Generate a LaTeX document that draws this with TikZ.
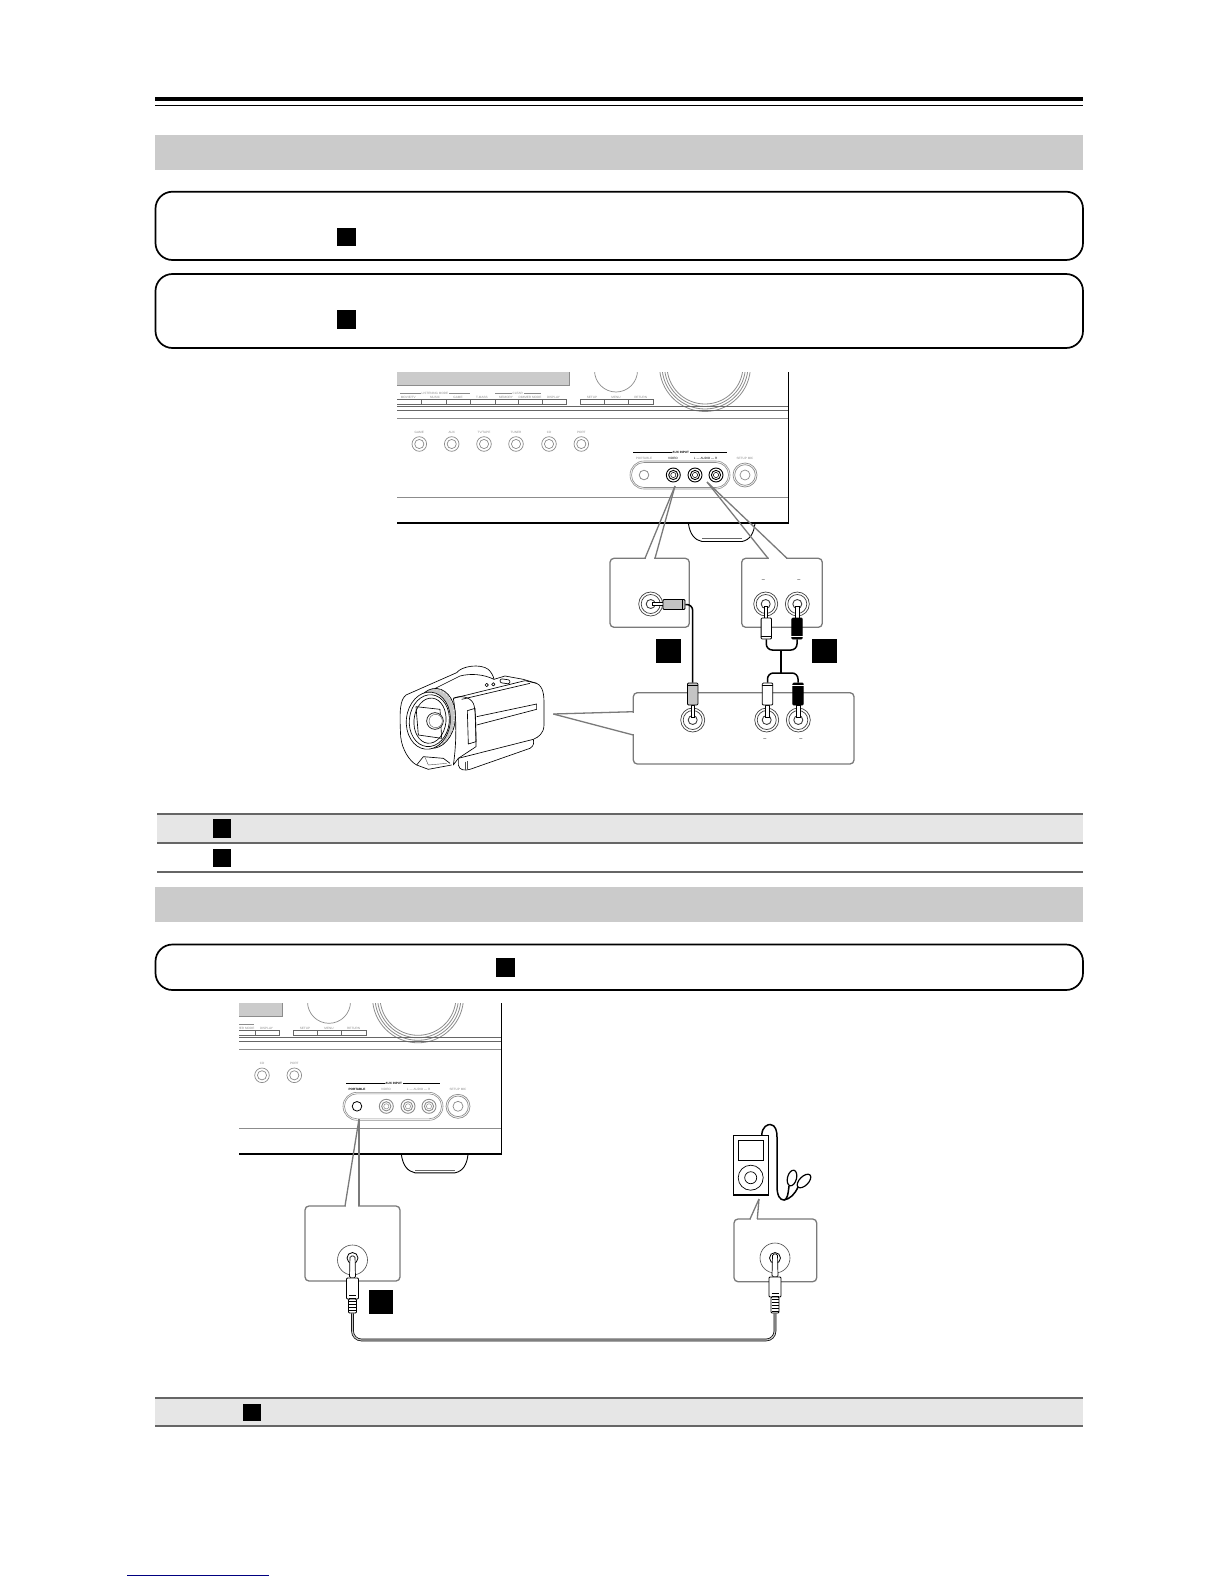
\documentclass[tikz,border=0pt]{standalone}
\usepackage{fontspec}
\setmainfont{Liberation Sans}
\definecolor{bandgrey}{HTML}{CBCBCB}
\definecolor{rowgrey}{HTML}{E6E6E6}
\definecolor{rulegrey}{HTML}{666666}
\definecolor{callgrey}{HTML}{7A7A7A}
\definecolor{panelgrey}{HTML}{8C8C8C}
\definecolor{plugbase}{HTML}{C4C4C4}
\definecolor{footnavy}{HTML}{000080}
\tikzset{
  band/.style={fill=bandgrey,draw=none},
  notebox/.style={draw=black,line width=1.7pt,rounded corners=17pt,fill=white},
  tag/.style={fill=black,draw=none},
  tablerule/.style={draw=rulegrey,line width=1.7pt},
  callout/.style={draw=callgrey,line width=1.3pt,rounded corners=4pt,fill=white},
  calloutedge/.style={draw=callgrey,line width=1.3pt},
  panel/.style={draw=panelgrey,line width=.7pt},
  panelthin/.style={draw=panelgrey,line width=.45pt},
  tiny/.style={inner sep=0pt,text=panelgrey,font=\fontsize{3.1}{3.1}\selectfont},
  tinybold/.style={inner sep=0pt,text=black,font=\fontsize{3.1}{3.1}\bfseries\selectfont},
  whitebox/.style={inner sep=.7pt,fill=white},
  plug/.style={draw=black,line width=.8pt,rounded corners=1pt,inner sep=0pt},
  cable/.style={draw=black,line width=1.5pt,rounded corners=6pt},
  jackring/.style={draw=black!75,line width=.7pt},
  stem/.style={draw=black,line width=.7pt,fill=white},
  marker/.style={inner sep=0pt,font=\fontsize{5.5}{5.5}\selectfont},
  camline/.style={draw=black,line width=.65pt,line join=round},
  camfine/.style={draw=black!70,line width=.4pt},
  devline/.style={draw=black,line width=1.5pt},
}
% big RCA jack
\newcommand\rcajack[2]{%
  \draw[jackring] (#1,#2) circle[radius=12];
  \draw[jackring] (#1,#2) circle[radius=9.5];
  \draw[jackring,line width=.9pt] (#1,#2) circle[radius=4.5];
}
% small jack on the receiver
\newcommand\frontjack[3]{%
  \draw[draw=#3,line width=.9pt] (#1,#2) circle[radius=7];
  \draw[draw=#3,line width=.9pt] (#1,#2) circle[radius=4.6];
  \draw[draw=#3,line width=.5pt] (#1,#2) circle[radius=2.6];
}
% receiver: dx, dy, left clip, portable colour, video colour, label style of the portable label, video label colour
\newcommand\receiver[7]{%
\begin{scope}[shift={(#1,#2)}]
  \begin{scope}
  \clip (#3,372) rectangle (790,550);
  % display
  \fill[bandgrey] (390,372) rectangle (569,385);
  \draw[panel] (569,372) -- (569,385) -- (390,385);
  % volume and joystick
  \draw[panel] (616,370.5) circle[radius=21.5];
  \foreach \r in {45.5,43,40.5,38}{\draw[draw=panelgrey,line width=.8pt] (705,366) circle[radius=\r];}
  % lines
  \draw[draw=rulegrey,line width=.8pt] (390,406) -- (788,406);
  \draw[draw=rulegrey,line width=.7pt] (390,410.3) -- (788,410.3);
  \draw[panel,line width=.9pt] (390,418) -- (788,418);
  \draw[panel,line width=.9pt] (390,497) -- (788,497);
  % buttons
  \draw[draw=rulegrey,line width=1pt,fill=white] (390,399.5) rectangle (566.7,404);
  \foreach \x in {421.7,446,470.7,495,518,542}{\draw[draw=rulegrey,line width=.8pt] (\x,399.5) -- (\x,404);}
  \draw[draw=rulegrey,line width=1pt,fill=white] (580,399.5) rectangle (653,404);
  \foreach \x in {604,628}{\draw[draw=rulegrey,line width=.8pt] (\x,399.5) -- (\x,404);}
  \draw[panelthin] (400,393) -- (470,393);
  \draw[panelthin] (495,393) -- (541,393);
  \node[tiny,whitebox] (lm) at (435,393) {LISTENING MODE};
  \node[tiny,whitebox] (clr) at (517.7,393) {CLEAR};
  \foreach \n/\x/\t in {a/408.3/{MOVIE/TV},b/435/MUSIC,c/458/GAME,d/482/T-MASS,e/506/MEMORY,f/530/DIMMER MODE,g/553.5/DISPLAY,h/592/SETUP,i/616/MENU,j/640.7/RETURN}{
    \node[tiny] (btn\n) at (\x,397) {\t};}
  % selectors
  \foreach \n/\x/\t in {GAME/419.3/GAME,AUX/451.7/AUX,TV/484/{TV/TAPE},TUNER/516/TUNER,CD/549/CD,PORT/581.3/PORT}{
    \node[tiny] (sel\n) at (\x,432) {\t};
    \draw[panel] (\x,444) circle[radius=7.3];
    \draw[panel] (\x,444) circle[radius=4.6];}
  % AUX input
  \draw[draw=black,line width=.5pt] (633,452) -- (727,452);
  \node[tinybold,whitebox] (auxlabel) at (680.7,452) {AUX INPUT};
  \node[#6] (portlabel) at (644,458) {PORTABLE};
  \node[tiny,text=#7] (vidlabel) at (673,458) {VIDEO};
  \node[tiny,text=#7] (audlabel) at (705.7,458) {L --- AUDIO --- R};
  \node[tiny] (miclabel) at (745,458) {SETUP MIC};
  \draw[panel,line width=.6pt,rounded corners=14pt] (630,461) rectangle (730,489);
  \draw[panel,line width=.6pt,rounded corners=12.5pt] (631.5,462.5) rectangle (728.5,487.5);
  \draw[draw=#4,line width=.8pt] (644,475) circle[radius=4.8];
  \frontjack{673.3}{475}{#5}
  \frontjack{695}{475}{#5}
  \frontjack{716}{475}{#5}
  \draw[panel] (745,475) circle[radius=12];
  \draw[panel] (745,475) circle[radius=10.3];
  \draw[panel] (745,475) circle[radius=5];
  % stand
  \draw[draw=black,line width=.9pt] (688.3,523) .. controls (690,535) and (695,540) .. (702,541.5) -- (742,541.5) .. controls (750,540) and (754,533) .. (755,523);
  \draw[draw=rulegrey,line width=.6pt] (702,538.7) -- (742,538.7);
  % case
  \draw[draw=black,line width=1.7pt] (390,522.7) -- (788,522.7);
  \draw[draw=black,line width=.9pt] (788,372) -- (788,523.5);
  \end{scope}
\end{scope}}
\begin{document}
\begin{tikzpicture}[x=1pt,y=-1pt]
\useasboundingbox (0,0) rectangle (1224,1584);
\fill[white] (0,0) rectangle (1224,1584);
% header rules
\draw[draw=black,line width=4pt] (155,99) -- (1083,99);
\draw[draw=black,line width=1pt] (155,105.3) -- (1083,105.3);
% first section
\path[band] (155,135) rectangle (1083,170);
\draw[notebox] (155.5,191.7) rectangle (1083,260);
\path[tag] (337,228) rectangle (356,246);
\draw[notebox] (155.5,274) rectangle (1083,348);
\path[tag] (337,310) rectangle (356,329);

\receiver{0}{0}{397}{panelgrey}{black}{tiny}{black}

% callout boxes
\draw[callout] (610,558.3) rectangle (689.3,627.3);
\draw[callout] (741.7,558.3) rectangle (822.3,627.3);
\draw[callout] (633.3,692.7) rectangle (854,764);
\fill[white] (646,555) rectangle (654,561);
\fill[white] (769,555) rectangle (786,561);
\fill[white] (631,712.6) rectangle (636,734);
\coordinate (vidtip) at (675,486);
\coordinate (audtip) at (707,482);
\coordinate (camtip) at (553.3,714);
\draw[calloutedge] (vidtip) -- (645,558.3);
\draw[calloutedge] (vidtip) -- (655,558.3);
\draw[calloutedge] (audtip) -- (768,558.3);
\draw[calloutedge] (audtip) -- (787,558.3);
\draw[calloutedge] (camtip) -- (633.3,711.7);
\draw[calloutedge] (camtip) -- (633.3,735);

% jacks
\rcajack{650.7}{604}
\rcajack{765.7}{604}
\rcajack{797.3}{604}
\rcajack{692.7}{720}
\rcajack{766.7}{720}
\rcajack{798.3}{720}
\node[marker] (d1) at (763.3,580.5) {–};
\node[marker] (d2) at (799,580.5) {–};
\node[marker] (d3) at (765,740) {–};
\node[marker] (d4) at (801,740) {–};
% stems
\draw[stem] (652,602.3) rectangle (663,605.7);
\draw[stem] (764,606) rectangle (767.6,618);
\draw[stem] (795.4,606) rectangle (799,618);
\draw[stem] (690.9,705) rectangle (694.5,717);
\draw[stem] (765.7,705) rectangle (769.3,717);
\draw[stem] (796.5,705) rectangle (800.1,717);
% plugs
\node[plug,fill=plugbase,minimum width=22pt,minimum height=10pt] (pvidtop) at (674,604.5) {};
\node[plug,fill=plugbase,minimum width=10.4pt,minimum height=22pt] (pvidbot) at (692.7,694) {};
\node[plug,fill=white,minimum width=10.4pt,minimum height=21pt] (pltop) at (766.3,628.5) {};
\node[plug,fill=black,minimum width=10.4pt,minimum height=21pt] (prtop) at (797,628.5) {};
\node[plug,fill=white,minimum width=10.4pt,minimum height=22pt] (plbot) at (767.5,694) {};
\node[plug,fill=black,minimum width=10.4pt,minimum height=22pt] (prbot) at (798,694) {};
\draw[draw=black,line width=.6pt] ([xshift=-3pt]pvidtop.north east) -- ([xshift=-3pt]pvidtop.south east);
\draw[draw=black,line width=.6pt] ([yshift=-3pt]pvidbot.north west) -- ([yshift=-3pt]pvidbot.north east);
\draw[draw=black,line width=.6pt] ([yshift=-3pt]plbot.north west) -- ([yshift=-3pt]plbot.north east);
\draw[draw=white,line width=.5pt] ([yshift=-3pt]prbot.north west) -- ([yshift=-3pt]prbot.north east);
\draw[draw=black,line width=.6pt] ([yshift=3pt]pltop.south west) -- ([yshift=3pt]pltop.south east);
\draw[draw=white,line width=.5pt] ([yshift=3pt]prtop.south west) -- ([yshift=3pt]prtop.south east);
% cables
\draw[cable] (pvidtop.east) -| (pvidbot.north);
\coordinate (ytop) at (781,650);
\coordinate (ybot) at (781,673);
\draw[cable] (pltop.south) |- (ytop) -| (prtop.south);
\draw[cable] (plbot.north) |- (ybot) -| (prbot.north);
\draw[draw=black,line width=1.5pt] (ytop) -- (ybot);
\path[tag] (656,639) rectangle (681,663);
\path[tag] (812,639) rectangle (836.7,663);

% camcorder
\begin{scope}[shift={(390,650)},x=.3333pt,y=-.3333pt]
  \draw[camline] (48,135) .. controls (30,150) and (28,180) .. (32,260) .. controls (36,300) and (60,335) .. (80,345) -- (115,358) -- (185,345);
  \draw[camline] (48,135) -- (200,68) .. controls (215,48) and (270,40) .. (295,58) .. controls (305,68) and (310,78) .. (312,88);
  \draw[camline] (130,118) -- (210,78) .. controls (240,70) and (280,72) .. (312,88);
  \draw[camline] (312,88) -- (345,78) -- (400,88) -- (440,100) .. controls (460,110) and (462,135) .. (462,160) -- (462,225) .. controls (462,250) and (445,262) .. (430,268) -- (205,325);
  \draw[camline] (190,145) -- (405,92) -- (440,100);
  \draw[camline] (215,148) -- (420,100);
  \draw[camline] (190,145) .. controls (210,135) and (240,140) .. (250,160) .. controls (258,175) and (258,250) .. (258,290) -- (205,325);
  \draw[camline] (190,145) .. controls (200,200) and (200,280) .. (190,345) -- (205,325);
  \draw[camline] (232,182) -- (255,175) -- (258,275) -- (235,282) -- cycle;
  \draw[camline] (260,200) -- (440,162) -- (440,178) -- (260,225);
  \draw[camline] (205,325) -- (205,345) .. controls (208,362) and (225,362) .. (240,358) -- (420,295) .. controls (432,288) and (432,278) .. (430,268);
  \draw[camfine] (225,335) -- (225,360);
  \draw[camfine] (233,333) -- (233,358);
  \draw[camline] (80,345) -- (100,320) -- (160,325) -- (180,340);
  \draw[camfine] (105,322) -- (115,345) -- (170,340);
  % lens barrel with knurl
  \draw[camline,fill=black!22,rotate around={-6:(132,205)}] (132,205) ellipse[x radius=64,y radius=90];
  \foreach \a in {-90,-80,...,90}{
    \draw[draw=white,line width=.35pt,rotate around={-6:(132,205)}] (132,205) ++(\a:58 and 83) -- ++(\a:5 and 6);}
  \draw[camline,fill=white,rotate around={-6:(115,212)}] (115,212) ellipse[x radius=66,y radius=86];
  \draw[camline,rotate around={-6:(118,212)}] (118,212) ellipse[x radius=60,y radius=78];
  \draw[camline,rotate around={-6:(120,212)}] (120,212) ellipse[x radius=48,y radius=68];
  \draw[camline] (78,170) -- (150,178) -- (155,265) -- (85,255) -- cycle;
  \draw[camline,fill=white] (135,213) circle[radius=25];
  \draw[camfine] (137,213) circle[radius=20];
  % buttons
  \draw[camline] (290,105) circle[radius=5];
  \draw[camline] (310,103) circle[radius=5];
  \draw[camline,rounded corners=2pt,rotate around={-8:(345,94)}] (330,88) rectangle (360,100);
\end{scope}

% tables
\fill[rowgrey] (157,814) rectangle (1083,842.7);
\draw[tablerule] (157,814) -- (1083,814);
\draw[tablerule] (157,842.7) -- (1083,842.7);
\draw[tablerule] (157,871.7) -- (1083,871.7);
\path[tag] (213,819) rectangle (231,838);
\path[tag] (213,849) rectangle (231,867);

% second section
\path[band] (155,887) rectangle (1083,922);
\draw[notebox] (155.5,944.5) rectangle (1083,990);
\path[tag] (496,958) rectangle (515,977);

\receiver{-287}{631.3}{526}{black}{panelgrey}{tinybold}{panelgrey}

% callouts lower
\draw[callout] (305,1206) rectangle (400,1281);
\draw[callout] (734,1219) rectangle (816.7,1281.7);
\fill[white] (346,1203) rectangle (358,1209);
\fill[white] (750.8,1216) rectangle (756.6,1222);
\coordinate (porttip) at (359,1119);
\coordinate (playertip) at (759,1199);
\draw[calloutedge] (porttip) -- (345,1206);
\draw[calloutedge] (porttip) -- (359,1206);
\draw[calloutedge] (playertip) -- (750,1219);
\draw[calloutedge] (playertip) -- (757.3,1219);

% mini jacks
\draw[draw=black!70,line width=.6pt] (352.5,1260) circle[radius=15];
\draw[draw=black,line width=.8pt] (352.5,1258) circle[radius=5.5];
\draw[draw=black!70,line width=.6pt] (775,1258) circle[radius=15];
\draw[draw=black,line width=.8pt] (775,1258) circle[radius=5.5];
\draw[stem,rounded corners=1.5pt] (350,1256) -- (355,1256) -- (355.5,1278) -- (349.5,1278) -- cycle;
\draw[stem,rounded corners=1.5pt] (772.5,1254) -- (777.5,1254) -- (778,1277) -- (772,1277) -- cycle;
\node[plug,fill=white,minimum width=12pt,minimum height=21pt] (mp1) at (352.5,1288.5) {};
\node[plug,fill=white,minimum width=8pt,minimum height=14pt] (mr1) at (352.5,1306) {};
\node[plug,fill=white,minimum width=12pt,minimum height=20pt] (mp2) at (775,1287) {};
\node[plug,fill=white,minimum width=8pt,minimum height=16pt] (mr2) at (775,1305) {};
\foreach \y in {1295,1298,1301,1304,1307,1310}{\draw[draw=black,line width=.5pt] (349,\y) -- (356,\y);}
\foreach \y in {1293,1296,1299,1302,1305,1308,1311}{\draw[draw=black,line width=.5pt] (771.5,\y) -- (778.5,\y);}
\coordinate (cablecorner) at (775,1340);
\draw[draw=black,line width=2.6pt,rounded corners=9pt] (mr1.south) |- (cablecorner) -- (mr2.south);
\draw[draw=plugbase,line width=1.2pt,rounded corners=9pt] (mr1.south) |- (cablecorner) -- (mr2.south);
\path[tag] (369,1290) rectangle (393,1314);

% player
\draw[devline] (733.3,1135.7) rectangle (768.3,1195);
\draw[draw=black,line width=.9pt] (738.3,1140.7) rectangle (763.3,1160.7);
\draw[draw=black,line width=.7pt] (750.7,1177.7) circle[radius=12.5];
\draw[draw=black,line width=.7pt] (750.7,1177.7) circle[radius=6];
\draw[devline] (761.7,1135.7) .. controls (762,1126) and (768,1124.5) .. (770,1124.5) .. controls (776,1124.5) and (777,1132) .. (777,1137) -- (777,1186) .. controls (777,1196) and (780,1200) .. (784,1200) .. controls (787,1200) and (788,1195) .. (789,1186);
\draw[devline] (784,1200) .. controls (790,1199) and (795,1194) .. (798,1187);
\draw[draw=black,line width=1.2pt,rotate around={-15:(792,1178)}] (792,1178) ellipse[x radius=4.5,y radius=8];
\draw[draw=black,line width=1.2pt,rotate around={-45:(804,1181)}] (804,1181) ellipse[x radius=4.5,y radius=8.5];

% bottom table
\fill[rowgrey] (155,1398) rectangle (1083,1426);
\draw[tablerule] (155,1398) -- (1083,1398);
\draw[tablerule] (155,1426) -- (1083,1426);
\path[tag] (242.5,1404) rectangle (260.5,1421);

% footer link rule
\draw[draw=footnavy,line width=1pt] (127.3,1575) -- (269,1575);
\end{tikzpicture}
\end{document}
